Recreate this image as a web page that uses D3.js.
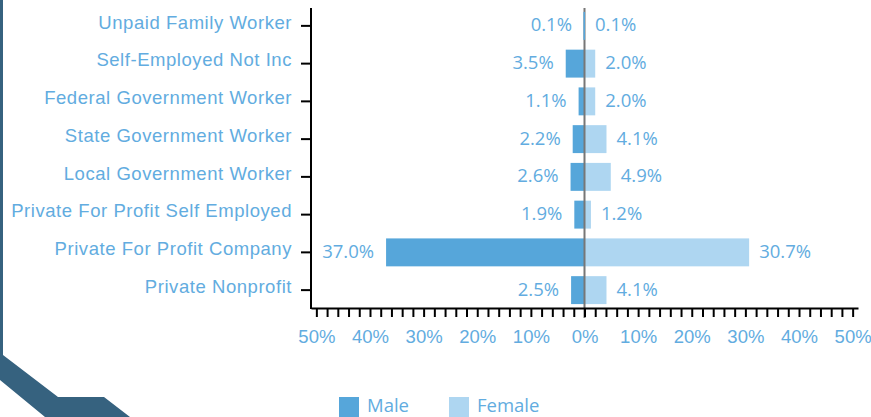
<!DOCTYPE html>
<html>
<head>
<meta charset="utf-8">
<script src="https://cdn.jsdelivr.net/npm/d3@7"></script>
<style>
  body { margin: 0; background: #fff; }
  svg { display: block; font-family: "Open Sans", Lato, sans-serif; }
  .axis text { fill: #62ace0; font-size: 18.5px; }
  .axis path, .axis line { stroke: #000; stroke-width: 2; }
  .y-axis text { letter-spacing: 0.55px; }
</style>
</head>
<body>
<svg id="chart" width="871" height="417"></svg>
<script>
// worker classes, top to bottom
const categories = [
  "Unpaid Family Worker",
  "Self-Employed Not Inc",
  "Federal Government Worker",
  "State Government Worker",
  "Local Government Worker",
  "Private For Profit Self Employed",
  "Private For Profit Company",
  "Private Nonprofit"
];
const male = [0.1, 3.5, 1.1, 2.2, 2.6, 1.9, 37.0, 2.5];
const female = [0.1, 2.0, 2.0, 4.1, 4.9, 1.2, 30.7, 4.1];
const seriesNames = ["Male", "Female"];
const xTicks = d3.range(-50, 51, 2);

const maleColor = "#56a6da";
const femaleColor = "#aed6f1";
const textColor = "#62ace0";

const svg = d3.select("#chart");

// decorative frame on the left edge
svg.append("path")
  .attr("d", "M0,0 L3,0 L3,355 L58,397 L104,397 L130,417 L45,417 L0,380 Z")
  .attr("fill", "#36627f");

const x = d3.scaleLinear().domain([-51, 51]).range([311, 858]);
const y = d3.scaleBand().domain(categories).range([7, 309]).paddingInner(0.26).paddingOuter(0.13);

const rows = categories.map((c, i) => ({ cat: c, m: male[i], f: female[i] }));

// bars
svg.append("g").selectAll("rect")
  .data(rows)
  .enter().append("rect")
  .attr("x", d => x(-d.m))
  .attr("y", d => y(d.cat))
  .attr("width", d => x(0) - x(-d.m))
  .attr("height", y.bandwidth())
  .attr("fill", maleColor);

svg.append("g").selectAll("rect")
  .data(rows)
  .enter().append("rect")
  .attr("x", x(0))
  .attr("y", d => y(d.cat))
  .attr("width", d => x(d.f) - x(0))
  .attr("height", y.bandwidth())
  .attr("fill", femaleColor);

// centre line
svg.append("line")
  .attr("x1", x(0)).attr("x2", x(0))
  .attr("y1", 8).attr("y2", 318)
  .attr("stroke", "#777").attr("stroke-width", 2);

// thin bars drawn again on top so they show over the centre line
svg.append("g").selectAll("rect")
  .data(rows.filter(d => d.m < 0.5))
  .enter().append("rect")
  .attr("x", d => x(-d.m) - 0.5)
  .attr("y", d => y(d.cat))
  .attr("width", d => x(0) - x(-d.m) + 1)
  .attr("height", y.bandwidth())
  .attr("fill", maleColor);

// value labels
const labels = svg.append("g")
  .style("font-size", "18.5px")
  .attr("fill", textColor);

labels.selectAll(".m")
  .data(rows)
  .enter().append("text")
  .attr("x", d => x(-d.m) - 12)
  .attr("y", d => y(d.cat) + y.bandwidth() / 2)
  .attr("dy", "0.3em")
  .attr("text-anchor", "end")
  .text(d => d.m.toFixed(1) + "%");

labels.selectAll(".f")
  .data(rows)
  .enter().append("text")
  .attr("x", d => x(d.f) + 10)
  .attr("y", d => y(d.cat) + y.bandwidth() / 2)
  .attr("dy", "0.3em")
  .text(d => d.f.toFixed(1) + "%");

// axes
svg.append("g")
  .attr("class", "axis")
  .attr("transform", "translate(0,308)")
  .call(d3.axisBottom(x)
    .tickValues(xTicks)
    .tickSize(9)
    .tickSizeOuter(0)
    .tickPadding(13)
    .tickFormat(d => d % 10 === 0 ? Math.abs(d) + "%" : ""))
  .call(g => g.selectAll(".tick").filter(d => d === 0).select("line").attr("stroke", "#777"));

svg.append("g")
  .attr("class", "axis y-axis")
  .attr("transform", "translate(311,0)")
  .call(d3.axisLeft(y).tickSize(10).tickSizeOuter(0).tickPadding(9))
  .call(g => g.select(".domain").attr("d", "M0,8V309"))
  .call(g => g.selectAll(".tick text").attr("dy", "0.15em"));

// legend
const legend = svg.append("g").style("font-size", "18.5px");
const legendX = [339, 449];
const legendColors = [maleColor, femaleColor];
seriesNames.forEach((name, i) => {
  legend.append("rect")
    .attr("x", legendX[i]).attr("y", 397)
    .attr("width", 20).attr("height", 20)
    .attr("fill", legendColors[i]);
  legend.append("text")
    .attr("x", legendX[i] + 28).attr("y", 412)
    .attr("fill", textColor)
    .text(name);
});
</script>
</body>
</html>
